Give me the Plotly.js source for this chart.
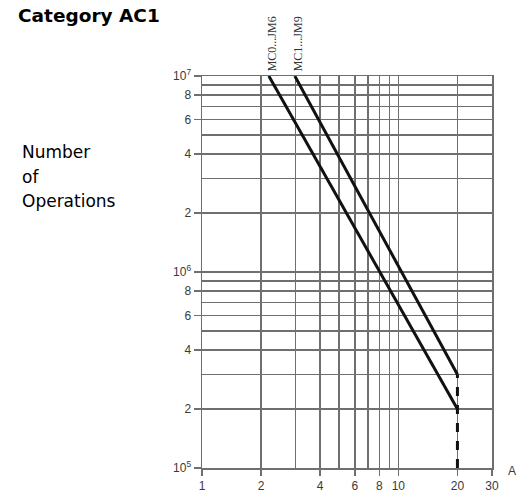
<!DOCTYPE html>
<html>
<head>
<meta charset="utf-8">
<script src="https://cdn.plot.ly/plotly-3.0.1.min.js"></script>
<style>
html,body{margin:0;padding:0;background:#fff;}
#chart{width:523px;height:494px;}
</style>
</head>
<body>
<div id="chart"></div>
<script>
// Data
const seriesNames = ['MC0...JM6', 'MC1...JM9'];
const mc0_x = [2.19, 20];
const mc0_y = [1e7, 2e5];
const mc1_x = [2.97, 20];
const mc1_y = [1e7, 3e5];
const limit_x = [20, 20];
const limit_y = [1e5, 3e5];

const xTickVals = [1, 2, 4, 6, 8, 10, 20, 30];
const xTickText = ['1', '2', '4', '6', '8', '10', '20', '30'];
const xMinorVals = [3, 5, 7, 9];
const yTickVals = [1e5, 2e5, 4e5, 6e5, 8e5, 1e6, 2e6, 4e6, 6e6, 8e6, 1e7];
const yTickText = ['10<sup>5</sup>', '2', '4', '6', '8', '10<sup>6</sup>', '2', '4', '6', '8', '10<sup>7</sup>'];
const yMinorVals = [3e5, 5e5, 7e5, 9e5, 3e6, 5e6, 7e6, 9e6];
const unitLabel = 'A';

const gridCol = '#6f6f6f';
const tickFont = {family: 'Liberation Sans, Arial, sans-serif', size: 12, color: '#3a3a3a'};

const traces = [
  {x: mc0_x, y: mc0_y, mode: 'lines', name: seriesNames[0], line: {color: '#111', width: 3}, showlegend: false},
  {x: mc1_x, y: mc1_y, mode: 'lines', name: seriesNames[1], line: {color: '#111', width: 3}, showlegend: false},
  {x: limit_x, y: limit_y, mode: 'lines', line: {color: '#111', width: 3, dash: 'dash'}, showlegend: false}
];

const L = 202, T = 76, W = 290, H = 392;
const layout = {
  width: 523, height: 494,
  margin: {l: L, r: 31, t: T, b: 26},
  paper_bgcolor: '#fff', plot_bgcolor: '#fff',
  showlegend: false,
  xaxis: {
    type: 'log', range: [0, Math.log10(30)], fixedrange: true,
    tickmode: 'array', tickvals: xTickVals, ticktext: xTickText,
    ticks: 'outside', ticklen: 6, tickcolor: gridCol, tickwidth: 1.5,
    showgrid: true, gridcolor: gridCol, gridwidth: 1.5,
    minor: {tickmode: 'array', tickvals: xMinorVals, showgrid: true, gridcolor: gridCol, gridwidth: 1.5, ticks: ''},
    showline: true, mirror: true, linecolor: gridCol, linewidth: 1.5,
    zeroline: false, tickfont: tickFont
  },
  yaxis: {
    type: 'log', range: [5, 7], fixedrange: true,
    tickmode: 'array', tickvals: yTickVals, ticktext: yTickText,
    ticks: 'outside', ticklen: 7, tickcolor: gridCol, tickwidth: 1.5,
    showgrid: true, gridcolor: gridCol, gridwidth: 1.5,
    minor: {tickmode: 'array', tickvals: yMinorVals, showgrid: true, gridcolor: gridCol, gridwidth: 1.5, ticks: ''},
    showline: true, mirror: true, linecolor: gridCol, linewidth: 1.5,
    zeroline: false, tickfont: tickFont
  },
  annotations: [
    {xref: 'paper', yref: 'paper', x: (16 - L) / W, y: 1 + (T - 16) / H, xanchor: 'left', yanchor: 'middle',
     text: '<b>Category AC1</b>', showarrow: false,
     font: {family: 'DejaVu Sans, sans-serif', size: 18.5, color: '#000'}},
    {xref: 'paper', yref: 'paper', x: (20 - L) / W, y: (494 - 26 - 152) / H, xanchor: 'left', yanchor: 'middle',
     text: 'Number', showarrow: false, font: {family: 'DejaVu Sans, sans-serif', size: 17, color: '#000'}},
    {xref: 'paper', yref: 'paper', x: (20 - L) / W, y: (494 - 26 - 177) / H, xanchor: 'left', yanchor: 'middle',
     text: 'of', showarrow: false, font: {family: 'DejaVu Sans, sans-serif', size: 17, color: '#000'}},
    {xref: 'paper', yref: 'paper', x: (20 - L) / W, y: (494 - 26 - 201) / H, xanchor: 'left', yanchor: 'middle',
     text: 'Operations', showarrow: false, font: {family: 'DejaVu Sans, sans-serif', size: 17, color: '#000'}},
    {xref: 'x', yref: 'paper', x: Math.log10(mc0_x[0]), y: 1, xanchor: 'center', yanchor: 'bottom', xshift: 3, yshift: 3,
     textangle: -90, text: seriesNames[0], showarrow: false,
     font: {family: 'Liberation Serif, serif', size: 12, color: '#333'}},
    {xref: 'x', yref: 'paper', x: Math.log10(mc1_x[0]), y: 1, xanchor: 'center', yanchor: 'bottom', xshift: 3, yshift: 3,
     textangle: -90, text: seriesNames[1], showarrow: false,
     font: {family: 'Liberation Serif, serif', size: 12, color: '#333'}},
    {xref: 'paper', yref: 'paper', x: 1 + 20 / W, y: -3 / H, xanchor: 'center', yanchor: 'middle',
     text: unitLabel, showarrow: false, font: {family: 'Liberation Sans, Arial, sans-serif', size: 12, color: '#3a3a3a'}}
  ]
};

Plotly.newPlot('chart', traces, layout, {displayModeBar: false, staticPlot: true});
</script>
</body>
</html>
